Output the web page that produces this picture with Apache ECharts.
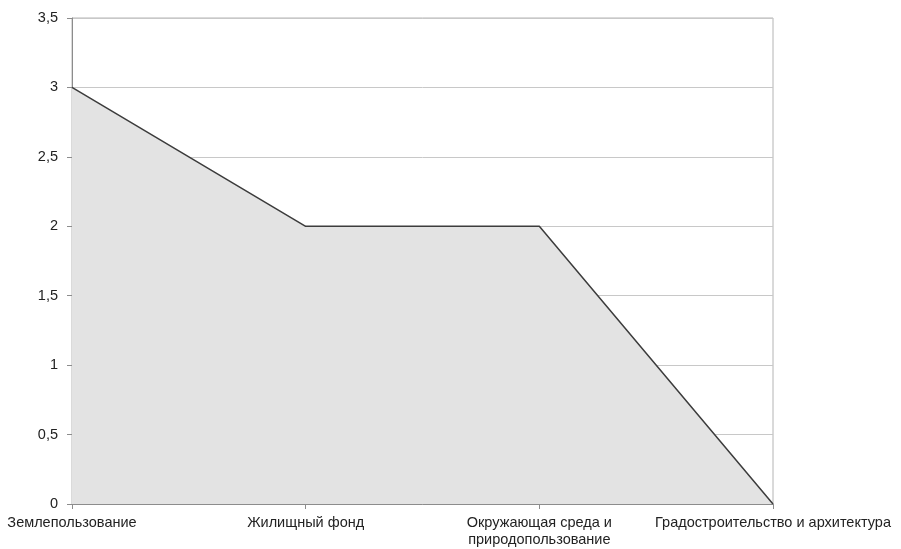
<!DOCTYPE html>
<html>
<head>
<meta charset="utf-8">
<script src="https://cdn.jsdelivr.net/npm/echarts@6/dist/echarts.min.js"></script>
<style>
html, body { margin: 0; padding: 0; background: #fff; }
#chart { width: 901px; height: 549px; }
</style>
</head>
<body>
<div id="chart"></div>
<script>
// данные
var categories = ['Землепользование', 'Жилищный фонд', 'Окружающая среда и\nприродопользование', 'Градостроительство и архитектура'];
var values = [3, 2, 2, 0];

var chart = echarts.init(document.getElementById('chart'));
var option = {
    animation: false,
    grid: {
        left: 72, right: 128, top: 18, bottom: 45,
        show: true, borderColor: '#b4b4b4', borderWidth: 1
    },
    xAxis: {
        type: 'category',
        data: categories,
        boundaryGap: false,
        axisLine: { lineStyle: { color: '#8c8c8c', width: 1 } },
        axisTick: { show: true, alignWithLabel: true, length: 5, lineStyle: { color: '#8c8c8c' } },
        axisLabel: {
            color: '#222', fontFamily: 'Liberation Sans', fontSize: 14.5,
            margin: 10, lineHeight: 17, interval: 0
        },
        splitLine: { show: false }
    },
    yAxis: {
        type: 'value',
        min: 0, max: 3.5, interval: 0.5,
        axisLine: { show: true, lineStyle: { color: '#8c8c8c', width: 1 } },
        axisTick: { show: true, length: 5, lineStyle: { color: '#8c8c8c' } },
        axisLabel: {
            color: '#222', fontFamily: 'Liberation Sans', fontSize: 14.5, margin: 14,
            formatter: function (v) { return String(v).replace('.', ','); }
        },
        splitLine: { show: true, lineStyle: { color: '#c8c8c8', width: 1 } }
    },
    series: [{
        type: 'line',
        data: values,
        symbol: 'none',
        lineStyle: { color: '#3c3c3c', width: 1.5 },
        areaStyle: { color: '#e3e3e3', opacity: 1 }
    }]
};
chart.setOption(option);
</script>
</body>
</html>
